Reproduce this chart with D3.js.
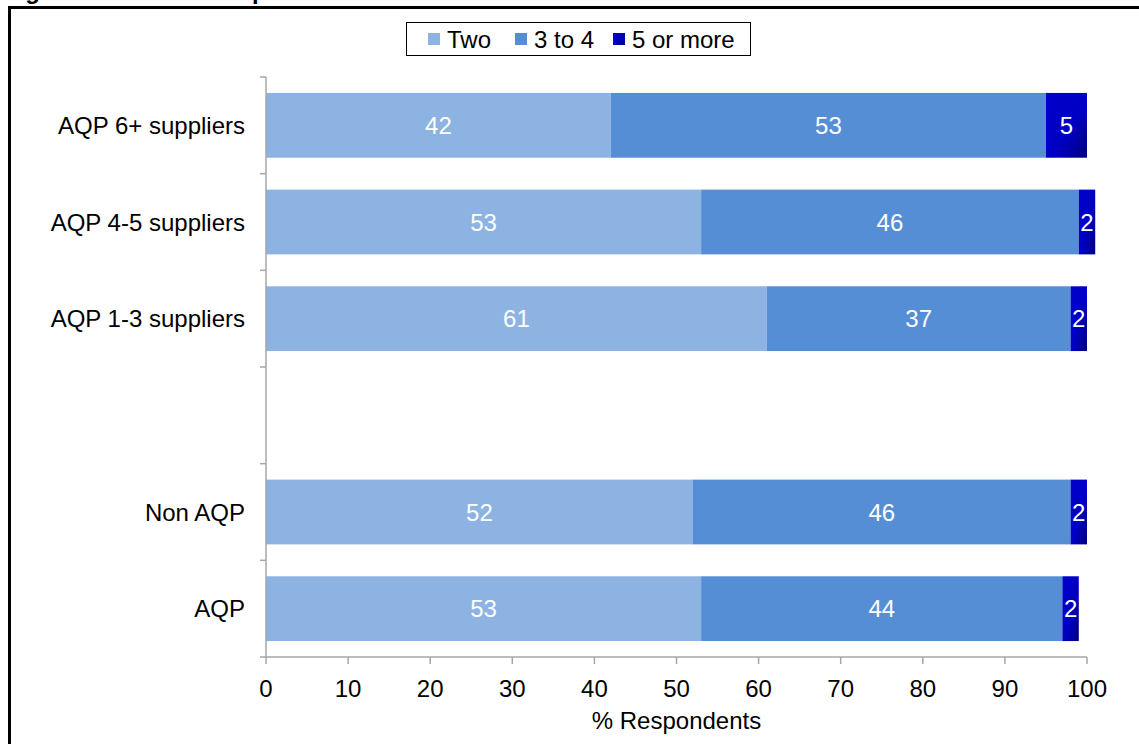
<!DOCTYPE html>
<html>
<head>
<meta charset="utf-8">
<script src="https://cdn.jsdelivr.net/npm/d3@7/dist/d3.min.js"></script>
<style>
  html, body { margin: 0; padding: 0; background: #fff; overflow: hidden; }
  svg { display: block; font-family: "Liberation Sans", Arial, sans-serif; }
</style>
</head>
<body>
<svg id="chart" width="1139" height="744"></svg>
<script>
// Respondent groups, top to bottom (an empty slot separates the two groups)
const categories = ["AQP 6+ suppliers", "AQP 4-5 suppliers", "AQP 1-3 suppliers", "", "Non AQP", "AQP"];
const seriesNames = ["Two", "3 to 4", "5 or more"];
const two      = [42, 53, 61, null, 52, 53];
const threeToFour = [53, 46, 37, null, 46, 44];
const fivePlus = [5, 2, 2, null, 2, 2];
const xTicks = [0, 10, 20, 30, 40, 50, 60, 70, 80, 90, 100];

const svg = d3.select("#chart");
const W = 1139, H = 744;
const FS = 24;

const colors = ["#8DB3E2", "#558ED5", "url(#gradFive)"];

// Gradient fill for the "5 or more" series
const defs = svg.append("defs");
const grad = defs.append("linearGradient").attr("id", "gradFive")
  .attr("x1", 0).attr("y1", 0).attr("x2", 1).attr("y2", 1);
grad.append("stop").attr("offset", "0%").attr("stop-color", "#0000CC");
grad.append("stop").attr("offset", "55%").attr("stop-color", "#0000C4");
grad.append("stop").attr("offset", "100%").attr("stop-color", "#000080");

// Figure caption, running off the top edge
svg.append("text").attr("x", 4).attr("y", -1)
  .attr("font-size", FS).attr("font-weight", "bold").attr("fill", "#000")
  .text("Figure 4: Number of specialists able to choose from");

// Chart frame
svg.append("rect").attr("x", 9.5).attr("y", 7.5).attr("width", W + 20).attr("height", H + 20)
  .attr("fill", "none").attr("stroke", "#000").attr("stroke-width", 3);

const x = d3.scaleLinear().domain([0, 100]).range([266, 1087]);
const y = d3.scaleBand().domain(categories.map((c, i) => i)).range([77, 657])
  .paddingInner(0.33).paddingOuter(0.165);

const rows = categories.map((c, i) => ({ cat: c, i, vals: [two[i], threeToFour[i], fivePlus[i]] }))
  .filter(r => r.vals[0] != null);

// Stacked segments
rows.forEach(r => {
  let acc = 0;
  r.vals.forEach((v, k) => {
    const x0 = acc, x1 = acc + v;
    acc = x1;
    svg.append("rect")
      .attr("x", x(x0)).attr("y", y(r.i))
      .attr("width", x(x1) - x(x0)).attr("height", y.bandwidth())
      .attr("fill", colors[k]);
    svg.append("text")
      .attr("x", (x(x0) + x(x1)) / 2).attr("y", y(r.i) + y.bandwidth() / 2 + 8.5)
      .attr("text-anchor", "middle").attr("font-size", FS).attr("fill", "#fff")
      .text(v);
  });
});

const axisColor = "#A6A6A6";

// Y axis line and category ticks
svg.append("line").attr("x1", 266).attr("x2", 266).attr("y1", 77).attr("y2", 657)
  .attr("stroke", axisColor).attr("stroke-width", 1.5);
const bounds = categories.map((c, i) => y(i) - y.step() * y.paddingInner() / 2).concat([657]);
svg.selectAll(".ytick").data(bounds).enter().append("line")
  .attr("x1", 260).attr("x2", 266).attr("y1", d => d).attr("y2", d => d)
  .attr("stroke", axisColor).attr("stroke-width", 1.5);
svg.selectAll(".ylab").data(rows).enter().append("text")
  .attr("x", 245).attr("y", d => y(d.i) + y.bandwidth() / 2 + 8.5)
  .attr("text-anchor", "end").attr("font-size", FS).attr("fill", "#000")
  .text(d => d.cat);

// X axis
svg.append("line").attr("x1", 266).attr("x2", 1087).attr("y1", 657).attr("y2", 657)
  .attr("stroke", axisColor).attr("stroke-width", 1.5);
svg.selectAll(".xtick").data(xTicks).enter().append("line")
  .attr("x1", d => x(d)).attr("x2", d => x(d)).attr("y1", 657).attr("y2", 664)
  .attr("stroke", axisColor).attr("stroke-width", 1.5);
svg.selectAll(".xlab").data(xTicks).enter().append("text")
  .attr("x", d => x(d)).attr("y", 697)
  .attr("text-anchor", "middle").attr("font-size", FS).attr("fill", "#000")
  .text(d => d);
svg.append("text").attr("x", x(50)).attr("y", 729)
  .attr("text-anchor", "middle").attr("font-size", FS).attr("fill", "#000")
  .text("% Respondents");

// Legend
const legend = svg.append("g");
legend.append("rect").attr("x", 406.5).attr("y", 22.5).attr("width", 344).attr("height", 33)
  .attr("fill", "#fff").attr("stroke", "#000").attr("stroke-width", 1);
const legX = [428, 515, 613];
seriesNames.forEach((s, k) => {
  legend.append("rect").attr("x", legX[k]).attr("y", 33).attr("width", 12).attr("height", 12)
    .attr("fill", colors[k]);
  legend.append("text").attr("x", legX[k] + 19).attr("y", 47.5)
    .attr("font-size", FS).attr("fill", "#000").text(s);
});
</script>
</body>
</html>
